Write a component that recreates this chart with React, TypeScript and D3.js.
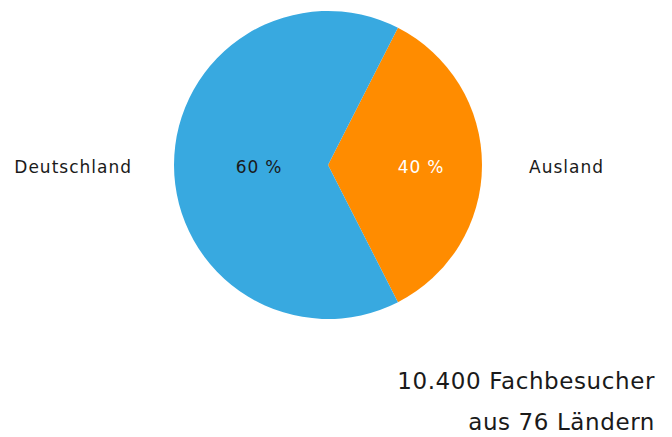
import { useEffect, useRef } from 'react'
import * as d3 from 'd3'

// Slice shares as drawn in the picture (labels carry the printed percentages)
const categories = ['Ausland', 'Deutschland']
const shares = [35, 65]
const shareLabels = ['40 %', '60 %']
const colors = ['#FF8C00', '#38A9E0']
const labelColors = ['#ffffff', '#1a1a1a']
const noteLines = ['10.400 Fachbesucher', 'aus 76 Ländern']

const WIDTH = 672
const HEIGHT = 437
const FONT = '"DejaVu Sans", sans-serif'

export default function App() {
  const svgRef = useRef<SVGSVGElement>(null)

  useEffect(() => {
    if (!svgRef.current) return
    const svg = d3.select(svgRef.current)
    svg.selectAll('*').remove()

    const cx = 328
    const cy = 165
    const radius = 154
    const startDeg = 27
    // value label distance from centre, per slice
    const labelRadius = [93, 69]
    // outside label gap, per slice
    const catGap = [47, 42]

    const pie = d3
      .pie<number>()
      .sort(null)
      .value((d) => d)
      .startAngle((startDeg * Math.PI) / 180)
      .endAngle((startDeg * Math.PI) / 180 + Math.PI * 2)

    const arc = d3.arc<d3.PieArcDatum<number>>().innerRadius(0).outerRadius(radius)
    const arcs = pie(shares)

    const g = svg.append('g').attr('transform', `translate(${cx},${cy})`)

    g.selectAll('path.slice')
      .data(arcs)
      .join('path')
      .attr('class', 'slice')
      .attr('d', arc)
      .attr('fill', (_, i) => colors[i])

    const mid = (d: d3.PieArcDatum<number>) => (d.startAngle + d.endAngle) / 2

    // Value labels inside the slices
    g.selectAll('text.value')
      .data(arcs)
      .join('text')
      .attr('class', 'value')
      .attr('x', (d, i) => Math.sin(mid(d)) * labelRadius[i])
      .attr('y', (d, i) => -Math.cos(mid(d)) * labelRadius[i] + 8)
      .attr('text-anchor', 'middle')
      .attr('fill', (_, i) => labelColors[i])
      .attr('font-family', FONT)
      .attr('font-size', '17px')
      .attr('letter-spacing', '0.8px')
      .text((_, i) => shareLabels[i])

    // Category labels outside the pie
    g.selectAll('text.cat')
      .data(arcs)
      .join('text')
      .attr('class', 'cat')
      .attr('x', (d, i) => Math.sin(mid(d)) * (radius + catGap[i]))
      .attr('y', (d) => -Math.cos(mid(d)) * radius + 8)
      .attr('text-anchor', (d) => (Math.sin(mid(d)) > 0 ? 'start' : 'end'))
      .attr('fill', '#1a1a1a')
      .attr('font-family', FONT)
      .attr('font-size', '17px')
      .attr('letter-spacing', '1px')
      .text((_, i) => categories[i])

    // Note in the bottom right corner
    svg
      .selectAll('text.note')
      .data(noteLines)
      .join('text')
      .attr('class', 'note')
      .attr('x', 655)
      .attr('y', (_, i) => 389 + i * 41)
      .attr('text-anchor', 'end')
      .attr('fill', '#1a1a1a')
      .attr('font-family', FONT)
      .attr('font-size', '23px')
      .attr('letter-spacing', '0.6px')
      .text((d) => d)
  }, [])

  return (
    <svg
      ref={svgRef}
      width={WIDTH}
      height={HEIGHT}
      style={{ position: 'absolute', left: 0, top: 0, background: '#fff' }}
    />
  )
}
